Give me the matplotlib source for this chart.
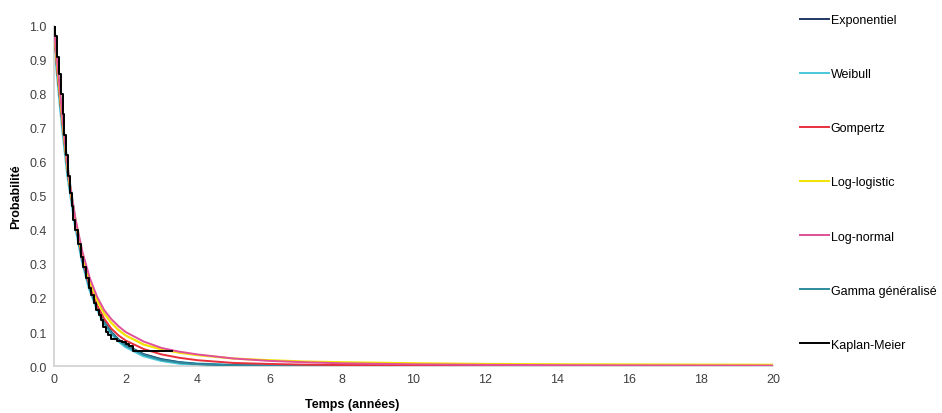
import matplotlib.pyplot as plt

plt.rcParams['font.family'] = ['Liberation Sans', 'DejaVu Sans']

# time grid (years) for the fitted survival curves
t = [0, 0.1, 0.2, 0.3, 0.4, 0.5, 0.6, 0.8, 1.0, 1.2, 1.4, 1.6, 1.8, 2.0,
     2.5, 3.0, 3.5, 4.0, 5, 6, 7, 8, 10, 12, 14, 16, 18, 20]

exponentiel = [1.0, 0.87, 0.76, 0.66, 0.56, 0.49, 0.42, 0.31, 0.23, 0.175, 0.13,
               0.10, 0.078, 0.062, 0.035, 0.020, 0.011, 0.006, 0.002, 0.0007,
               0.0002, 0, 0, 0, 0, 0, 0, 0]
weibull = [1.0, 0.87, 0.755, 0.655, 0.56, 0.49, 0.42, 0.31, 0.228, 0.172, 0.127,
           0.097, 0.075, 0.058, 0.031, 0.017, 0.009, 0.005, 0.0015, 0.0004,
           0.0001, 0, 0, 0, 0, 0, 0, 0]
gompertz = [1.0, 0.87, 0.76, 0.66, 0.565, 0.49, 0.425, 0.315, 0.235, 0.18, 0.14,
            0.11, 0.09, 0.075, 0.05, 0.034, 0.024, 0.017, 0.009, 0.006,
            0.004, 0.003, 0.002, 0.002, 0.002, 0.002, 0.002, 0.002]
log_logistic = [1.0, 0.88, 0.77, 0.665, 0.57, 0.495, 0.43, 0.325, 0.25, 0.195, 0.155,
                0.127, 0.106, 0.09, 0.063, 0.049, 0.039, 0.032, 0.022, 0.017,
                0.013, 0.011, 0.008, 0.006, 0.005, 0.0045, 0.004, 0.0035]
log_normal = [1.0, 0.89, 0.78, 0.67, 0.575, 0.50, 0.435, 0.335, 0.26, 0.205, 0.165,
              0.138, 0.117, 0.10, 0.072, 0.053, 0.042, 0.034, 0.022, 0.015,
              0.011, 0.008, 0.005, 0.0035, 0.0025, 0.002, 0.0016, 0.0013]
gamma_gen = [1.0, 0.87, 0.757, 0.657, 0.56, 0.49, 0.42, 0.31, 0.229, 0.173, 0.128,
             0.098, 0.076, 0.060, 0.033, 0.018, 0.010, 0.0055, 0.0018, 0.0005,
             0.0001, 0, 0, 0, 0, 0, 0, 0]

# Kaplan-Meier estimate (step function)
km_t = [0, 0.05, 0.1, 0.15, 0.2, 0.25, 0.3, 0.35, 0.4, 0.45, 0.5, 0.55, 0.6,
        0.68, 0.75, 0.82, 0.9, 0.97, 1.05, 1.12, 1.18, 1.25, 1.32, 1.38, 1.45,
        1.52, 1.6, 1.75, 1.9, 2.0, 2.1, 2.2, 3.3]
km_s = [1.0, 0.97, 0.91, 0.86, 0.80, 0.74, 0.68, 0.62, 0.56, 0.51, 0.47, 0.43,
        0.40, 0.36, 0.32, 0.29, 0.26, 0.23, 0.21, 0.185, 0.165, 0.15, 0.135,
        0.115, 0.10, 0.09, 0.08, 0.075, 0.07, 0.065, 0.06, 0.044, 0.044]

fig = plt.figure(figsize=(9.42, 4.14), dpi=100)
ax = fig.add_axes([0.057, 0.1135, 0.764, 0.8215])

ax.plot(t, weibull, color='#4bc6dc', lw=2.6, label='Weibull', zorder=2)
ax.plot(t, exponentiel, color='#1f3864', lw=1.4, label='Exponentiel', zorder=3)
ax.plot(t, gamma_gen, color='#2e8b9e', lw=1.4, label='Gamma généralisé', zorder=3)
ax.plot(t, gompertz, color='#e8303a', lw=1.4, label='Gompertz', zorder=4)
ax.plot(t, log_logistic, color='#f2e400', lw=1.6, label='Log-logistic', zorder=4)
ax.plot(t, log_normal, color='#e0509a', lw=1.4, label='Log-normal', zorder=5)
ax.plot(km_t, km_s, color='black', lw=1.4, drawstyle='steps-post',
        label='Kaplan-Meier', zorder=6)

ax.set_xlim(0, 20)
ax.set_ylim(0, 1.0)
ax.set_xticks(range(0, 21, 2))
ax.set_yticks([i / 10 for i in range(11)])
ax.yaxis.set_major_formatter(plt.FormatStrFormatter('%.1f'))
ax.tick_params(length=0, labelsize=9, colors='#404040', pad=5)
for side in ['top', 'right']:
    ax.spines[side].set_visible(False)
for side in ['left', 'bottom']:
    ax.spines[side].set_color('#d0d0d0')
    ax.spines[side].set_linewidth(1.2)

ax.set_ylabel('Probabilité', fontsize=9, fontweight='bold', labelpad=5)
fig.text(352 / 942, 1 - 405 / 414, 'Temps (années)', fontsize=9,
         fontweight='bold', ha='center', va='center')

handles, labels = ax.get_legend_handles_labels()
order = ['Exponentiel', 'Weibull', 'Gompertz', 'Log-logistic', 'Log-normal',
         'Gamma généralisé', 'Kaplan-Meier']
hmap = dict(zip(labels, handles))
leg = fig.legend([hmap[k] for k in order], order, loc='upper left',
                 bbox_to_anchor=(800 / 942, 1 - 15 / 414), frameon=False,
                 fontsize=9, labelspacing=3.37, handlelength=2.3,
                 handletextpad=0.15, borderpad=0, borderaxespad=0)
for line in leg.get_lines():
    line.set_linewidth(1.4)

fig.savefig('out.png', dpi=100)
